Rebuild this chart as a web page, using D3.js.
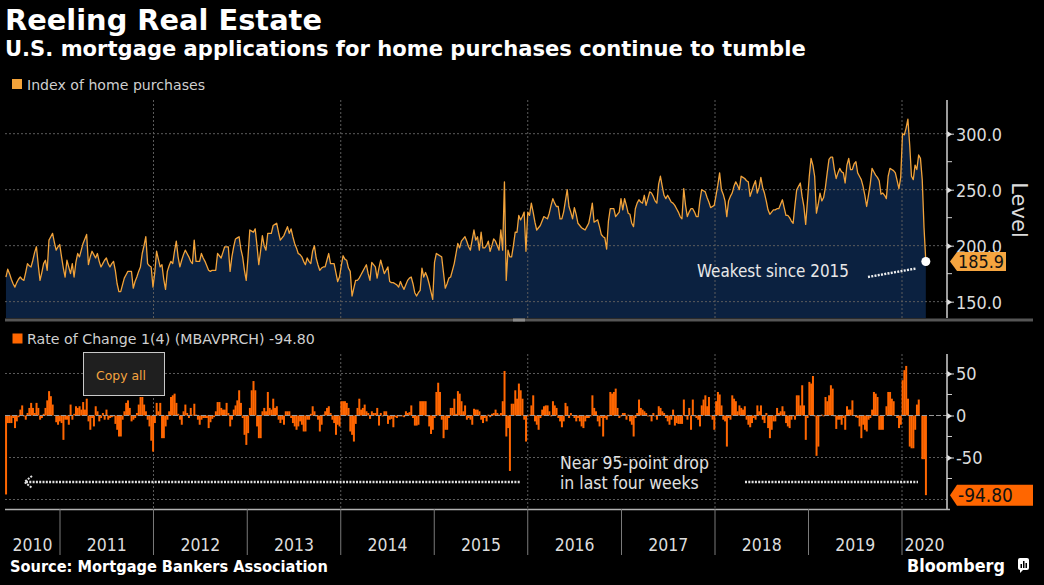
<!DOCTYPE html>
<html><head><meta charset="utf-8">
<script src="https://cdn.jsdelivr.net/npm/d3@7"></script>
<style>
html,body{margin:0;padding:0;background:#000;}
svg{display:block;}
</style></head>
<body>
<svg id="chart" width="1044" height="585"></svg>
<script>
// ---------------- DATA ----------------
const titleText = "Reeling Real Estate";
const subtitleText = "U.S. mortgage applications for home purchases continue to tumble";
const topSeriesName = "Index of home purchases";
const bottomSeriesName = "Rate of Change 1(4) (MBAVPRCH) -94.80";
const sourceText = "Source: Mortgage Bankers Association";
const firstWeek = "2010-06-04"; // weekly observations from this date
const purchaseIndex = [
172,179,175,170,166,163,167,170,172,170,
169,176,184,182,181,187,194,199,183,169,
176,184,187,178,205,208,211,203,196,199,
201,190,180,172,187,181,175,184,172,185,
193,190,196,202,206,210,183,190,195,192,
189,193,186,181,184,187,189,184,181,184,
186,178,166,159,159,165,171,174,177,177,
177,162,168,172,177,181,193,200,208,184,
182,181,163,176,195,188,181,183,170,161,
177,182,186,184,195,204,190,181,187,192,
196,193,190,186,184,205,186,186,186,193,
189,186,182,178,177,178,178,178,193,191,
189,194,199,199,199,177,190,199,206,207,
208,197,190,178,169,190,214,213,212,215,
200,183,195,209,200,196,211,211,211,218,
219,220,212,205,207,209,213,217,211,215,
208,202,198,193,192,190,186,183,189,186,
184,195,200,189,183,178,180,181,181,187,
193,184,184,184,176,168,172,182,191,188,
187,180,177,155,162,169,169,171,174,177,
180,183,175,169,185,183,181,171,180,187,
181,175,178,181,168,167,167,166,165,163,
168,164,161,165,169,171,172,166,158,155,
158,160,180,172,176,172,166,159,152,185,
193,192,191,190,176,162,166,171,172,178,
184,193,202,198,204,206,208,204,199,196,
205,214,205,208,196,212,198,198,200,204,
195,200,206,204,200,196,214,196,257,169,
196,190,190,200,212,212,227,223,226,230,
195,230,227,238,230,221,214,216,218,222,
226,225,224,229,236,242,238,235,235,224,
224,230,240,250,235,230,224,234,228,220,
218,216,215,214,217,220,228,238,221,222,
223,217,210,208,207,197,222,233,233,233,
226,228,230,242,232,242,236,229,228,220,
217,233,238,241,239,238,245,236,242,248,
247,244,240,238,255,262,253,245,242,245,
242,239,238,236,233,230,226,224,251,236,
226,230,233,233,230,226,226,240,250,249,
248,243,239,234,235,236,245,254,265,250,
246,240,226,240,244,247,253,257,254,250,
262,261,260,258,257,244,249,254,258,247,
252,261,252,247,240,232,228,230,232,232,
233,233,237,241,234,227,227,225,222,220,
236,250,253,256,244,235,219,240,262,278,
272,262,229,237,247,240,243,252,265,277,
279,279,268,260,265,269,266,265,256,272,
278,268,268,273,275,265,262,259,253,245,
235,245,255,269,266,263,261,258,246,247,
245,242,262,269,268,267,265,258,251,261,
300,299,305,313,290,262,259,272,268,281,
278,259,216,185.9];
const rateOfChange = [
-94,-9,-9,-9,-3,-15,-7,-2,7,12,
-1,-5,3,9,15,9,3,15,9,-5,
-3,2,9,18,29,23,13,0,-8,-11,
-7,-9,-29,-5,-5,-11,13,-5,2,11,
9,11,7,16,7,20,-7,-17,-3,-13,
11,5,-7,-3,3,-5,7,-5,-3,-2,
-1,-10,-17,-25,-25,-5,5,15,18,9,
-7,-5,-3,3,13,22,22,13,5,-5,
-13,-30,-43,-9,15,5,15,-27,-27,-13,
-5,5,22,24,26,15,2,-5,-11,5,
13,3,-3,9,1,14,1,-5,-11,-5,
-3,-3,-3,-15,-8,-4,-2,5,16,16,
9,7,7,15,3,-13,-5,7,12,18,
30,15,-3,-23,-35,-21,9,30,41,30,
-13,-27,-27,5,9,5,28,9,7,20,
9,11,-5,-9,-5,-11,5,5,5,-3,
-9,-13,-17,-13,-7,-11,-19,-19,-5,-5,
2,11,5,-1,-5,-19,-11,1,5,9,
11,3,-5,-9,-23,-11,-13,17,17,17,
15,9,-19,-23,-31,-10,9,20,7,9,
13,5,3,-4,5,3,3,9,-12,3,
-1,5,5,-10,-5,-4,-14,-2,-3,-1,
-1,-1,-2,5,3,4,12,-3,-12,-12,
-11,17,17,17,17,-1,-13,-22,-17,-3,
28,39,28,-5,-27,-17,-17,-3,9,9,
20,2,29,26,17,5,12,-5,-3,-5,
-11,8,7,7,5,-5,-9,-3,-7,1,
-2,2,3,7,3,1,3,17,53,-25,
-15,-66,14,14,30,20,38,30,20,-5,
-31,-1,1,12,24,-7,-11,-17,-3,7,
11,12,12,5,-1,17,12,9,-3,-7,
-14,-7,15,11,-3,3,0,-3,-7,-3,
-7,-13,-15,-7,-3,-3,-1,24,9,5,
-7,-13,-3,-25,-3,-5,-1,28,26,28,
32,9,-3,-1,3,3,-5,1,-7,-11,
-25,-3,3,19,9,7,5,3,-1,-1,
-7,3,-1,-5,11,9,5,3,-3,-7,
-11,-5,7,-12,-9,-10,-10,-10,19,-1,
-5,9,-17,19,-1,-3,-5,-13,12,19,
24,11,22,-1,-5,-17,17,28,25,12,
-5,-7,-37,-3,-5,24,20,17,5,12,
9,7,11,-5,-11,-14,-9,-3,-5,12,
5,12,-5,-9,3,-15,-27,-17,-7,-7,
9,3,5,11,5,-9,-13,-15,-5,-1,
-5,24,24,12,36,12,-29,-3,40,38,
47,-1,-48,-37,-1,1,-1,22,17,24,
36,32,-1,-16,-5,-5,-11,-3,-17,11,
7,7,18,0,-2,-3,-13,-27,-11,-17,
-19,-5,-3,7,28,26,22,-17,-17,-17,
0,11,28,28,20,17,0,-3,-15,-11,
42,54,59,20,-37,-39,-39,-17,13,19,
0,-52,-52,-94.8];
const levelTicks = [150, 200, 250, 300];
const levelMinorTicks = [175, 225, 275];
const rocTicks = [50, 0, -50];
const rocMinorTicks = [25, -25, -75];
const rocGridValues = [50, -50, -100];
const yearLabels = [2010,2011,2012,2013,2014,2015,2016,2017,2018,2019,2020];
const gridYears = [2012,2014,2016,2018,2020];
const lastLevelLabel = "185.9";
const lastRocLabel = "-94.80";
const noteTop = "Weakest since 2015";
const noteBottom = ["Near 95-point drop", "in last four weeks"];

// ---------------- SETUP ----------------
const svg = d3.select("#chart");
const W = 1044, H = 585;
svg.append("rect").attr("width", W).attr("height", H).attr("fill", "#000");

const FONT = "'DejaVu Sans', Verdana, sans-serif";
const COND = "'DejaVu Sans Condensed', 'DejaVu Sans', sans-serif";
const GRID = "#5c5c5c";
const TXT = "#dcdcdc";
const ORANGE = "#f2a33a";
const RED = "#ff6600";

function fit(sel, target) {
  const w = sel.node().getComputedTextLength();
  const fs = parseFloat(sel.attr("font-size"));
  if (w > 0) sel.attr("font-size", (fs * target / w).toFixed(2));
  return sel;
}

const parse = d3.timeParse("%Y-%m-%d");
const t0 = parse(firstWeek);
const topData = purchaseIndex.map((v, i) => ({date: d3.timeDay.offset(t0, 7 * i), v}));
const botData = rateOfChange.map((v, i) => ({date: d3.timeDay.offset(t0, 7 * i), v}));

const plotL = 5, plotR = 947;
const x = d3.scaleTime().domain([new Date(2011, 0, 1), new Date(2020, 0, 1)]).range([60, 902]);
const yTop = d3.scaleLinear().domain([135.4, 330.1]).range([318, 100]);
const yBot = d3.scaleLinear().domain([-111.3, 73.2]).range([509, 354]);

// ---------------- TITLES ----------------
fit(svg.append("text").attr("x", 5).attr("y", 30).attr("font-family", FONT).attr("font-weight", "bold")
  .attr("font-size", 28).attr("fill", "#fff").text(titleText), 317);
fit(svg.append("text").attr("x", 5).attr("y", 56).attr("font-family", FONT).attr("font-weight", "bold")
  .attr("font-size", 21).attr("fill", "#fff").text(subtitleText), 801);

// legend 1
svg.append("rect").attr("x", 12).attr("y", 79).attr("width", 10).attr("height", 10).attr("fill", ORANGE);
fit(svg.append("text").attr("x", 27).attr("y", 90).attr("font-family", FONT).attr("font-size", 14)
  .attr("fill", "#cfcfcf").text(topSeriesName), 178);

// ---------------- TOP PANEL ----------------
const gTop = svg.append("g");
const area = d3.area().x(d => x(d.date)).y0(318).y1(d => yTop(d.v));
gTop.append("path").datum(topData).attr("d", area).attr("fill", "#0b2140");

// grid
gTop.selectAll(".hgt").data(levelTicks).join("line")
  .attr("x1", plotL).attr("x2", plotR).attr("y1", d => yTop(d)).attr("y2", d => yTop(d))
  .attr("stroke", GRID).attr("stroke-dasharray", "2,2");
gTop.selectAll(".vgt").data(gridYears).join("line")
  .attr("x1", d => x(new Date(d, 0, 1))).attr("x2", d => x(new Date(d, 0, 1)))
  .attr("y1", 100).attr("y2", 318)
  .attr("stroke", GRID).attr("stroke-dasharray", "2,2");

const line = d3.line().x(d => x(d.date)).y(d => yTop(d.v));
gTop.append("path").datum(topData).attr("d", line).attr("fill", "none")
  .attr("stroke", ORANGE).attr("stroke-width", 1.3).attr("stroke-linejoin", "round");

// separator bar
svg.append("rect").attr("x", 5).attr("y", 318.5).attr("width", 1028).attr("height", 3).attr("fill", "#555");
svg.append("rect").attr("x", 513).attr("y", 318.5).attr("width", 12).attr("height", 3).attr("fill", "#8a8a8a");

// right axis top
function rightAxis(scale, ticks, minor, fmt, y1, y2) {
  const g = svg.append("g").attr("transform", `translate(${plotR},0)`);
  const ax = d3.axisRight(scale).tickValues(ticks).tickFormat(fmt).tickSize(7).tickPadding(2);
  g.call(ax);
  g.select(".domain").remove();
  g.selectAll(".tick line").attr("stroke", "#d0d0d0").attr("stroke-width", 1);
  g.selectAll(".tick").append("path").attr("d", "M0,-3.2L5,0L0,3.2Z").attr("fill", "#e0e0e0");
  g.selectAll(".tick text").attr("font-family", COND).attr("font-size", 18).attr("fill", TXT)
    .attr("dy", "0.36em");
  g.selectAll(".minor").data(minor).join("line").attr("x1", 0).attr("x2", 5)
    .attr("y1", d => scale(d)).attr("y2", d => scale(d)).attr("stroke", "#d0d0d0");
  g.append("line").attr("x1", 0).attr("x2", 0).attr("y1", y1).attr("y2", y2)
    .attr("stroke", "#d0d0d0").attr("stroke-width", 1.5);
  return g;
}
const axTop = rightAxis(yTop, levelTicks, levelMinorTicks, d3.format(".1f"), 100, 318);
axTop.selectAll(".tick text").each(function() { fit(d3.select(this), 46); });

svg.append("text").attr("transform", "translate(1012,210) rotate(90)").attr("text-anchor", "middle")
  .attr("font-family", FONT).attr("font-size", 21).attr("fill", TXT).text("Level");

// end point and label (top)
const lastTop = topData[topData.length - 1];
svg.append("path")
  .attr("d", `M950,${yTop(lastTop.v)}L957,${yTop(lastTop.v) - 9.5}H1006V${yTop(lastTop.v) + 9.5}H957Z`)
  .attr("fill", "#f5a540");
fit(svg.append("text").attr("x", 958).attr("y", yTop(lastTop.v) + 6.8).attr("font-family", COND)
  .attr("font-size", 18).attr("fill", "#111").text(lastLevelLabel), 46);

// annotation top
fit(svg.append("text").attr("x", 697).attr("y", 277).attr("font-family", COND).attr("font-size", 17)
  .attr("fill", "#e8e8e8").text(noteTop), 152);
svg.append("line").attr("x1", 868).attr("y1", 277).attr("x2", 916).attr("y2", 268.5)
  .attr("stroke", "#f0f0f0").attr("stroke-width", 2.4).attr("stroke-dasharray", "2,1.3");
svg.append("circle").attr("cx", x(lastTop.date)).attr("cy", yTop(lastTop.v)).attr("r", 4.5)
  .attr("fill", "#fff");

// ---------------- BOTTOM PANEL ----------------
svg.append("rect").attr("x", 12.5).attr("y", 333.5).attr("width", 10).attr("height", 10).attr("fill", RED);
fit(svg.append("text").attr("x", 27).attr("y", 344).attr("font-family", FONT).attr("font-size", 15)
  .attr("fill", "#cfcfcf").text(bottomSeriesName), 288);

const gBot = svg.append("g");
gBot.selectAll(".hgb").data(rocGridValues).join("line")
  .attr("x1", plotL).attr("x2", plotR).attr("y1", d => yBot(d)).attr("y2", d => yBot(d))
  .attr("stroke", GRID).attr("stroke-dasharray", "2,2");
gBot.selectAll(".vgb").data(gridYears).join("line")
  .attr("x1", d => x(new Date(d, 0, 1))).attr("x2", d => x(new Date(d, 0, 1)))
  .attr("y1", 354).attr("y2", 509)
  .attr("stroke", GRID).attr("stroke-dasharray", "2,2");

const bw = x(d3.timeDay.offset(t0, 7)) - x(t0);
gBot.selectAll(".bar").data(botData).join("rect")
  .attr("x", d => x(d.date) - bw / 2)
  .attr("width", bw + 0.2)
  .attr("y", d => yBot(Math.max(0, d.v)))
  .attr("height", d => Math.abs(yBot(d.v) - yBot(0)))
  .attr("fill", RED);

gBot.append("line").attr("x1", plotL).attr("x2", plotR).attr("y1", yBot(0)).attr("y2", yBot(0))
  .attr("stroke", "#9a9a9a").attr("stroke-width", 1).attr("stroke-dasharray", "5,2");

const axBot = rightAxis(yBot, rocTicks, rocMinorTicks, d3.format("d"), 354, 509);
axBot.selectAll(".tick text").text(d => d < 0 ? "-" + Math.abs(d) : d);

// end label bottom
const lastBot = botData[botData.length - 1];
const yb = yBot(lastBot.v);
svg.append("path").attr("d", `M950,${yb}L957,${yb - 10.5}H1033V${yb + 10.5}H957Z`).attr("fill", RED);
fit(svg.append("text").attr("x", 958).attr("y", yb + 6.8).attr("font-family", COND)
  .attr("font-size", 18).attr("fill", "#111").text(lastRocLabel), 55);

// "Copy all" box
svg.append("rect").attr("x", 83.5).attr("y", 352.5).attr("width", 81).attr("height", 43)
  .attr("fill", "#1f1f1f").attr("stroke", "#c8c8c8").attr("stroke-width", 1);
fit(svg.append("text").attr("x", 96).attr("y", 380).attr("font-family", FONT).attr("font-size", 13)
  .attr("fill", "#f5a540").text("Copy all"), 50);

// bottom annotation
const n1 = fit(svg.append("text").attr("x", 560).attr("y", 469).attr("font-family", COND).attr("font-size", 17)
  .attr("fill", "#e0e0e0").text(noteBottom[0]), 149);
svg.append("text").attr("x", 560).attr("y", 489).attr("font-family", COND).attr("font-size", n1.attr("font-size"))
  .attr("fill", "#e0e0e0").text(noteBottom[1]);
svg.append("line").attr("x1", 26).attr("x2", 521).attr("y1", 482).attr("y2", 482)
  .attr("stroke", "#e0e0e0").attr("stroke-width", 2.4).attr("stroke-dasharray", "2,1.3");
svg.append("path").attr("d", "M32,476L24.5,482L32,488").attr("fill", "none")
  .attr("stroke", "#e0e0e0").attr("stroke-width", 2).attr("stroke-dasharray", "2,1.3");
svg.append("line").attr("x1", 745).attr("x2", 918).attr("y1", 482).attr("y2", 482)
  .attr("stroke", "#e0e0e0").attr("stroke-width", 2.4).attr("stroke-dasharray", "2,1.3");

// ---------------- TIME AXIS ----------------
svg.append("line").attr("x1", plotL).attr("x2", 950).attr("y1", 509.5).attr("y2", 509.5)
  .attr("stroke", "#b0b0b0").attr("stroke-width", 1.5);
const xStart = x(topData[0].date);
svg.selectAll(".sep").data(yearLabels.slice(1)).join("line")
  .attr("x1", d => x(new Date(d, 0, 1))).attr("x2", d => x(new Date(d, 0, 1)))
  .attr("y1", 509).attr("y2", 555).attr("stroke", "#7a7a7a").attr("stroke-width", 1);
svg.selectAll(".yl").data(yearLabels).join("text")
  .attr("x", d => (Math.max(plotL, x(new Date(d, 0, 1))) + Math.min(plotR, x(new Date(d + 1, 0, 1)))) / 2)
  .attr("y", 551).attr("text-anchor", "middle").attr("font-family", COND).attr("font-size", 18)
  .attr("fill", TXT).text(d => d)
  .each(function() { fit(d3.select(this), 40); });

// ---------------- FOOTER ----------------
fit(svg.append("text").attr("x", 10).attr("y", 572).attr("font-family", COND).attr("font-weight", "bold")
  .attr("font-size", 15).attr("fill", "#fff").text(sourceText), 318);
const bl = svg.append("text").attr("x", 907).attr("y", 572).attr("font-family", COND).attr("font-weight", "bold")
  .attr("font-size", 18).attr("fill", "#fff").text("Bloomberg");
fit(bl, 98);
const ic = svg.append("g").attr("transform", "translate(1018,558)");
ic.append("rect").attr("width", 11).attr("height", 12).attr("rx", 2).attr("fill", "#fff");
ic.append("path").attr("d", "M2,12L2,15L5,12Z").attr("fill", "#fff");
[[2.5, 6], [5, 3], [7.5, 5]].forEach(([bx, by]) =>
  ic.append("rect").attr("x", bx).attr("y", by).attr("width", 1.5).attr("height", 10 - by).attr("fill", "#000"));
</script>
</body></html>
